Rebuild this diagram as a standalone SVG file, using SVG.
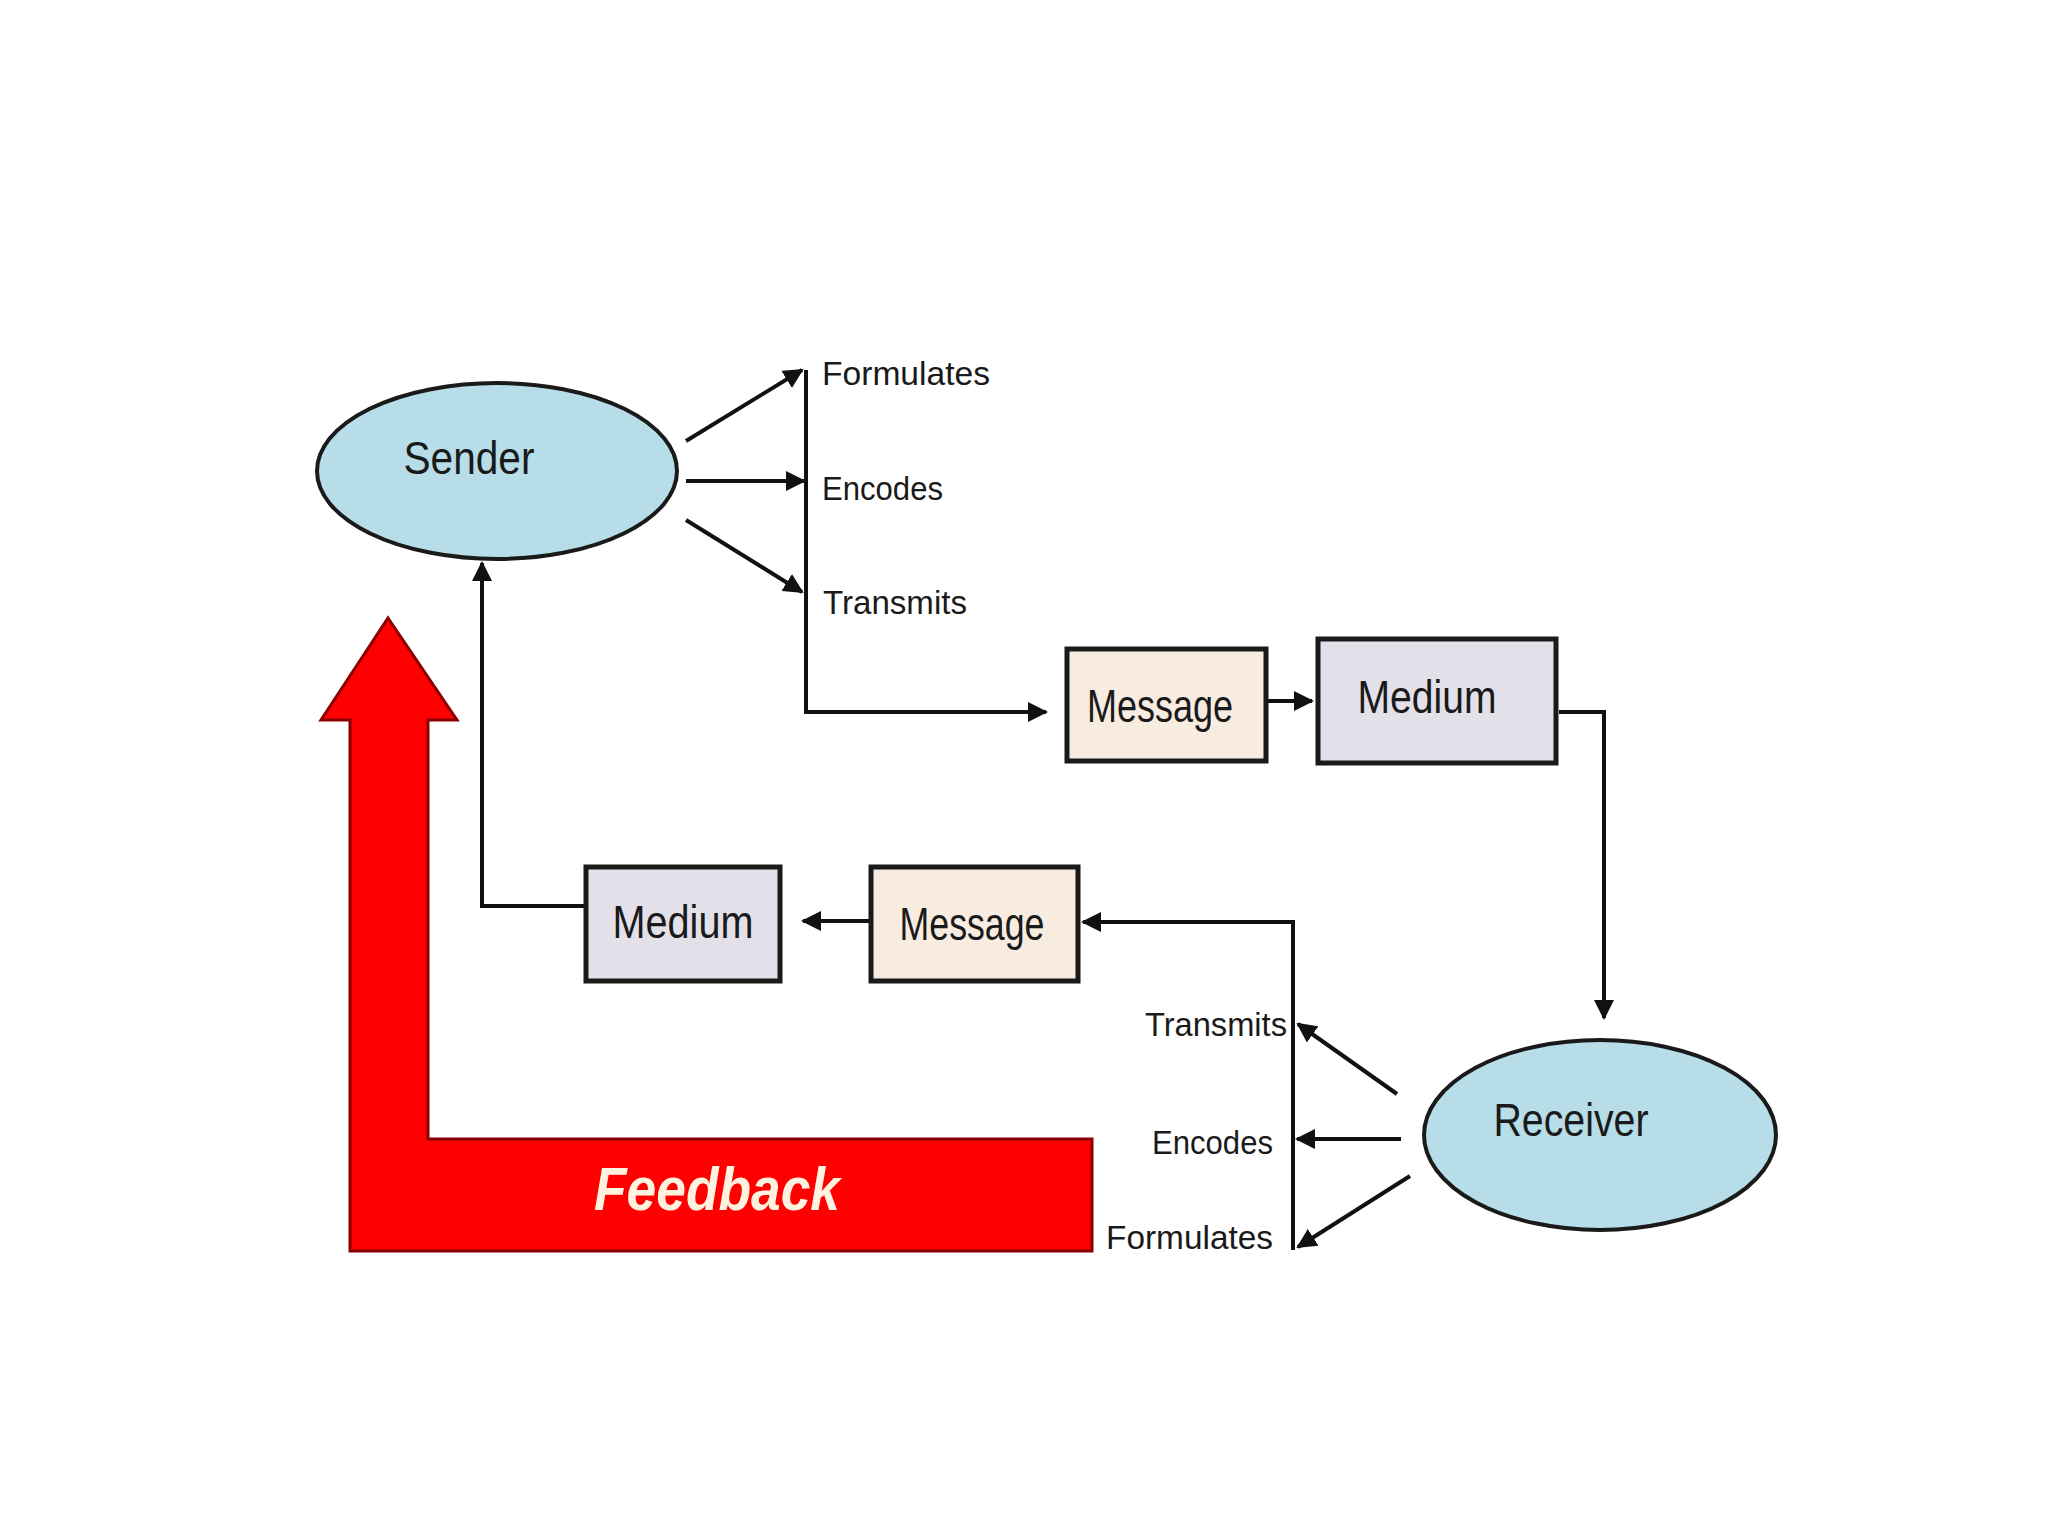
<svg xmlns="http://www.w3.org/2000/svg" width="2048" height="1536" viewBox="0 0 2048 1536">
<style>
.ell{fill:#b7dde8;stroke:#1a1a1a;stroke-width:4}
.msg{fill:#f8ece0;stroke:#1a1a1a;stroke-width:5}
.med{fill:#e3e0ea;stroke:#1a1a1a;stroke-width:5}
.lbl{font-family:"Liberation Sans",Arial,sans-serif;fill:#1a1a1a}
.node{font-size:46px;text-anchor:middle}
.small{font-size:34px}
.con{fill:none;stroke:#111;stroke-width:4}
</style>
<defs>
<marker id="ah" viewBox="0 0 10 10" refX="9" refY="5" markerWidth="5" markerHeight="5" orient="auto" markerUnits="strokeWidth">
<path d="M0,0 L10,5 L0,10 z" fill="#111"/>
</marker>
</defs>
<rect width="2048" height="1536" fill="#ffffff"/>

<g id="feedback">
<path d="M388,618 L457,720 L428,720 L428,1139 L1092,1139 L1092,1251 L350,1251 L350,720 L321,720 Z" fill="#ff0000" stroke="#8a0000" stroke-width="3" stroke-linejoin="miter"/>
<text x="594" y="1210" font-family="Liberation Sans,Arial,sans-serif" font-weight="bold" font-style="italic" font-size="62" fill="#fff3e0" textLength="246" lengthAdjust="spacingAndGlyphs">Feedback</text>
</g>

<g id="connectors">
<line class="con" x1="686" y1="441" x2="802" y2="370" marker-end="url(#ah)"/>
<line class="con" x1="686" y1="481" x2="804" y2="481" marker-end="url(#ah)"/>
<line class="con" x1="686" y1="520" x2="802" y2="592" marker-end="url(#ah)"/>
<polyline class="con" points="806,370 806,712 1046,712" marker-end="url(#ah)"/>
<line class="con" x1="1268" y1="701" x2="1312" y2="701" marker-end="url(#ah)"/>
<polyline class="con" points="1559,712 1604,712 1604,1018" marker-end="url(#ah)"/>
<line class="con" x1="1397" y1="1094" x2="1298" y2="1024" marker-end="url(#ah)"/>
<line class="con" x1="1401" y1="1139" x2="1297" y2="1139" marker-end="url(#ah)"/>
<line class="con" x1="1410" y1="1176" x2="1298" y2="1247" marker-end="url(#ah)"/>
<polyline class="con" points="1293,1250 1293,922 1083,922" marker-end="url(#ah)"/>
<line class="con" x1="869" y1="921" x2="803" y2="921" marker-end="url(#ah)"/>
<polyline class="con" points="586,906 482,906 482,563" marker-end="url(#ah)"/>
</g>

<g id="sender">
<ellipse class="ell" cx="497" cy="471" rx="180" ry="88"/>
<text class="lbl node" x="469" y="474" textLength="131" lengthAdjust="spacingAndGlyphs">Sender</text>
</g>

<g id="sender-labels">
<text class="lbl small" x="822" y="385" textLength="168" lengthAdjust="spacingAndGlyphs">Formulates</text>
<text class="lbl small" x="822" y="500" textLength="121" lengthAdjust="spacingAndGlyphs">Encodes</text>
<text class="lbl small" x="823" y="614" textLength="144" lengthAdjust="spacingAndGlyphs">Transmits</text>
</g>

<g id="message-top">
<rect class="msg" x="1067" y="649" width="199" height="112"/>
<text class="lbl node" x="1160" y="722" textLength="146" lengthAdjust="spacingAndGlyphs">Message</text>
</g>

<g id="medium-top">
<rect class="med" x="1318" y="639" width="238" height="124"/>
<text class="lbl node" x="1427" y="713" textLength="139" lengthAdjust="spacingAndGlyphs">Medium</text>
</g>

<g id="receiver">
<ellipse class="ell" cx="1600" cy="1135" rx="176" ry="95"/>
<text class="lbl node" x="1571" y="1136" textLength="155" lengthAdjust="spacingAndGlyphs">Receiver</text>
</g>

<g id="receiver-labels">
<text class="lbl small" x="1287" y="1036" text-anchor="end" textLength="142" lengthAdjust="spacingAndGlyphs">Transmits</text>
<text class="lbl small" x="1273" y="1154" text-anchor="end" textLength="121" lengthAdjust="spacingAndGlyphs">Encodes</text>
<text class="lbl small" x="1273" y="1249" text-anchor="end" textLength="167" lengthAdjust="spacingAndGlyphs">Formulates</text>
</g>

<g id="message-bottom">
<rect class="msg" x="871" y="867" width="207" height="114"/>
<text class="lbl node" x="972" y="940" textLength="145" lengthAdjust="spacingAndGlyphs">Message</text>
</g>

<g id="medium-bottom">
<rect class="med" x="586" y="867" width="194" height="114"/>
<text class="lbl node" x="683" y="938" textLength="141" lengthAdjust="spacingAndGlyphs">Medium</text>
</g>
</svg>
